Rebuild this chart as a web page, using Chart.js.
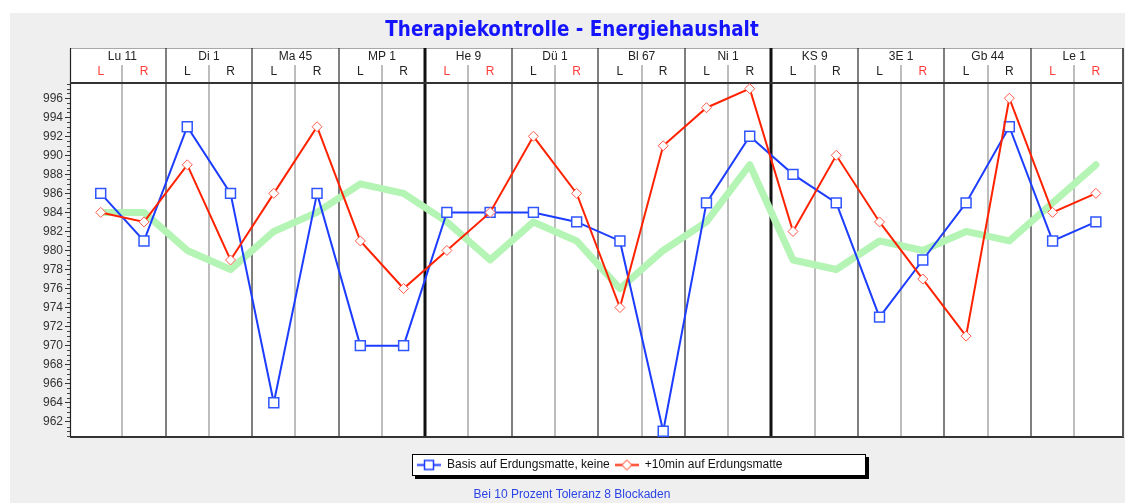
<!DOCTYPE html>
<html><head><meta charset="utf-8">
<script src="https://cdn.jsdelivr.net/npm/chart.js@4.4.1/dist/chart.umd.min.js"></script>
<style>html,body{margin:0;padding:0;background:#fff;overflow:hidden}canvas{display:block}</style>
</head><body>
<canvas id="c" width="1125" height="503"></canvas>
<script>
// ---------- data ----------
const chartTitle = 'Therapiekontrolle - Energiehaushalt';
const footerText = 'Bei 10 Prozent Toleranz 8 Blockaden';
const groups = ['Lu 11','Di 1','Ma 45','MP 1','He 9','Dü 1','Bl 67','Ni 1','KS 9','3E 1','Gb 44','Le 1'];
const sides = ['L','R'];
const redSides = [1,1, 0,0, 0,0, 0,0, 1,1, 0,1, 0,0, 0,0, 0,0, 0,1, 0,0, 1,1];
const seriesNames = ['Basis auf Erdungsmatte, keine','+10min auf Erdungsmatte','Referenz'];
const basis   = [986,981,993,986,964,986,970,970,984,984,984,983,981,961,985,992,988,985,973,979,985,993,981,983];
const plus10  = [984,983,989,979,986,993,981,976,980,984,992,986,974,991,995,997,982,990,983,977,971,996,984,986];
const referenz= [984,984,980,978,982,984,987,986,983,979,983,981,976,980,983,989,979,978,981,980,982,981,985,989];
const yMin = 960.4, yMax = 997.6, yStep = 0.5, yLabelStep = 2;
const xMin = -0.71, xMax = 23.65;

// ---------- styles ----------
const FONT = '"Liberation Sans", Arial, sans-serif';
const BLUE = '#1c3cff', RED = '#ff2200', GREEN = '#b4f4b4';

function legendIcon(color, shape) {
  const c = document.createElement('canvas'); c.width = 24; c.height = 13;
  const g = c.getContext('2d');
  g.strokeStyle = color; g.lineWidth = 2;
  g.beginPath(); g.moveTo(0, 6.5); g.lineTo(24, 6.5); g.stroke();
  g.fillStyle = '#fff';
  if (shape === 'rect') {
    g.lineWidth = 1.5; g.fillRect(7.5, 2, 9, 9); g.strokeRect(7.5, 2, 9, 9);
  } else {
    g.lineWidth = 1; g.beginPath();
    g.moveTo(7, 6.5); g.lineTo(12, 1.5); g.lineTo(17, 6.5); g.lineTo(12, 11.5); g.closePath();
    g.fill(); g.stroke();
  }
  return c;
}
const icons = [legendIcon(BLUE, 'rect'), legendIcon(RED, 'diamond')];

const noPad = s => { s.paddingLeft = 0; s.paddingRight = 0; s.paddingTop = 0; s.paddingBottom = 0; };

const decor = {
  id: 'decor',
  afterLayout(chart) {
    const lg = chart.legend;
    const h = lg.height;
    lg.left = 412; lg.right = 866; lg.width = 454; lg.top = 454; lg.bottom = 454 + h;
    if (chart.titleBlock) { chart.titleBlock.right = 1134; }
    chart.boxes.forEach(b => {
      if (b.options && b.options.text === footerText) {
        const hh = b.height; b.left = 10; b.right = 1134; b.width = 1124;
        b.top = 495 - hh / 2; b.bottom = b.top + hh;
      }
    });
  },
  beforeDraw(chart) {
    const ctx = chart.ctx, a = chart.chartArea, xs = chart.scales.x, xg = chart.scales.xg;
    const hTop = Math.round(xg.top), hMid = Math.round(xs.top);
    ctx.save();
    ctx.fillStyle = '#efefef';
    ctx.fillRect(10, 13, chart.width - 10, chart.height - 13);
    ctx.fillStyle = '#fff';
    ctx.fillRect(a.left, hTop, a.right - a.left, a.bottom - hTop);
    // header top border
    ctx.strokeStyle = '#a8a8a8'; ctx.lineWidth = 1;
    ctx.beginPath(); ctx.moveTo(a.left, hTop + 0.5); ctx.lineTo(a.right, hTop + 0.5); ctx.stroke();
    // vertical dividers
    for (let k = 0; k < basis.length - 1; k++) {
      const x = Math.round(xs.getPixelForValue(k + 0.5));
      ctx.beginPath();
      if (k % 2 === 0) {
        ctx.strokeStyle = '#9a9a9a'; ctx.lineWidth = 1.3;
        ctx.moveTo(x, hMid); ctx.lineTo(x, a.bottom);
      } else {
        const thick = (k + 1) % 8 === 0;
        ctx.strokeStyle = thick ? '#111' : '#2a2a2a'; ctx.lineWidth = thick ? 3 : 1.2;
        ctx.moveTo(x, hTop); ctx.lineTo(x, a.bottom);
      }
      ctx.stroke();
    }
    // frame
    ctx.strokeStyle = '#222'; ctx.lineWidth = 1.2;
    ctx.beginPath(); ctx.moveTo(a.left + 0.5, hTop); ctx.lineTo(a.left + 0.5, a.bottom); ctx.stroke();
    ctx.lineWidth = 2; ctx.strokeStyle = '#333';
    ctx.beginPath(); ctx.moveTo(a.left, a.top); ctx.lineTo(a.right, a.top); ctx.stroke();
    ctx.beginPath(); ctx.moveTo(a.left, a.bottom); ctx.lineTo(a.right, a.bottom); ctx.stroke();
    ctx.strokeStyle = '#555';
    ctx.beginPath(); ctx.moveTo(a.right - 1, hTop); ctx.lineTo(a.right - 1, a.bottom); ctx.stroke();
    // minor y ticks
    const ys = chart.scales.y;
    ctx.strokeStyle = '#444'; ctx.lineWidth = 1;
    ys.ticks.forEach(t => {
      if (t.value % yLabelStep !== 0) {
        const y = Math.round(ys.getPixelForValue(t.value)) + 0.5;
        ctx.beginPath(); ctx.moveTo(a.left - 3, y); ctx.lineTo(a.left, y); ctx.stroke();
      }
    });
    // legend box with shadow
    const lg = chart.legend;
    const bx = lg.left, by = lg.top, bw = 454, bh = 22;
    ctx.fillStyle = '#000';
    ctx.fillRect(bx + 3, by + 3, bw, bh);
    ctx.fillStyle = '#fff';
    ctx.fillRect(bx, by, bw, bh);
    ctx.strokeStyle = '#000'; ctx.lineWidth = 1;
    ctx.strokeRect(bx + 0.5, by + 0.5, bw - 1, bh - 1);
    ctx.restore();
  }
};

const pts = arr => arr.map((v, i) => ({x: i, y: v}));

new Chart(document.getElementById('c'), {
  type: 'line',
  data: {
    datasets: [
      {label: seriesNames[0], data: pts(basis), borderColor: BLUE, borderWidth: 2,
       pointStyle: 'rect', pointRadius: 7, pointBorderWidth: 1.5, pointBorderColor: '#2f55ff',
       pointBackgroundColor: '#fff', order: 2, tension: 0, clip: false},
      {label: seriesNames[1], data: pts(plus10), borderColor: RED, borderWidth: 2,
       pointStyle: 'rectRot', pointRadius: 5, pointBorderWidth: 1, pointBorderColor: '#ff5a4a',
       pointBackgroundColor: '#fff', order: 1, tension: 0, clip: false},
      {label: seriesNames[2], data: pts(referenz), borderColor: GREEN, borderWidth: 7,
       pointRadius: 0, order: 3, tension: 0, borderJoinStyle: 'round', borderCapStyle: 'round'}
    ]
  },
  options: {
    responsive: false, animation: false, devicePixelRatio: 1, events: [],
    layout: {autoPadding: false, padding: {top: 13, left: 10, right: 1, bottom: 16.6}},
    scales: {
      x: {
        type: 'linear', position: 'top', min: xMin, max: xMax, weight: 0, bounds: 'data',
        afterBuildTicks: s => { s.ticks = basis.map((_, i) => ({value: i})); },
        afterFit: s => { s.height = 18; noPad(s); },
        grid: {display: false, drawTicks: false}, border: {display: false},
        ticks: {autoSkip: false, maxRotation: 0, minRotation: 0, padding: 4,
          font: {family: FONT, size: 12},
          color: c => redSides[c.index] ? '#ff3c3c' : '#222',
          callback: (v, i) => sides[i % 2]}
      },
      xg: {
        type: 'linear', position: 'top', min: xMin, max: xMax, weight: 1, bounds: 'data',
        afterBuildTicks: s => { s.ticks = groups.map((_, g) => ({value: 2 * g + 0.5})); },
        afterFit: s => { s.height = 17; noPad(s); },
        grid: {display: false, drawTicks: false}, border: {display: false},
        ticks: {autoSkip: false, maxRotation: 0, minRotation: 0, padding: 1,
          font: {family: FONT, size: 12}, color: '#222',
          callback: (v, i) => groups[i]}
      },
      y: {
        type: 'linear', position: 'left', min: yMin, max: yMax,
        afterFit: s => { s.width = 60; noPad(s); },
        border: {display: false},
        grid: {display: true, drawOnChartArea: false, drawTicks: true, tickLength: 5,
          tickColor: c => (c.tick && c.tick.value % yLabelStep === 0) ? '#333' : 'rgba(0,0,0,0)'},
        ticks: {stepSize: yStep, includeBounds: false, autoSkip: false, padding: 2,
          font: {family: FONT, size: 12}, color: '#333',
          callback: v => (v % yLabelStep === 0 ? String(v) : '')}
      }
    },
    plugins: {
      title: {display: true, text: chartTitle, color: '#1414ff',
        font: {family: '"DejaVu Sans Condensed", "DejaVu Sans", sans-serif', size: 20.4, weight: 'bold'},
        padding: {top: 5, bottom: 5.5}},
      subtitle: {display: true, position: 'bottom', text: footerText, color: '#2a44e6',
        font: {family: FONT, size: 12}, padding: {top: 4, bottom: 4}},
      legend: {display: true, position: 'bottom', align: 'start',
        labels: {usePointStyle: true, pointStyleWidth: 24, boxHeight: 12, padding: 5,
          font: {family: FONT, size: 12}, color: '#111',
          generateLabels: chart => {
            const items = Chart.defaults.plugins.legend.labels.generateLabels(chart)
              .filter(it => it.datasetIndex < 2)
              .sort((p, q) => p.datasetIndex - q.datasetIndex);
            items.forEach(it => { it.pointStyle = icons[it.datasetIndex]; });
            return items;
          }}},
      tooltip: {enabled: false}
    }
  },
  plugins: [decor]
});
</script>
</body></html>
